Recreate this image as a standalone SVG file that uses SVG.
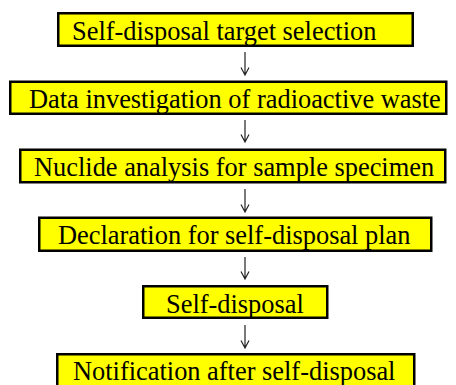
<svg xmlns="http://www.w3.org/2000/svg" width="456" height="385" viewBox="0 0 456 385">
  <style>
    .box { fill: #ffff00; stroke: #000; stroke-width: 2.5; }
    .label { font-family: "Liberation Serif", "Times New Roman", serif; font-size: 26.4px; fill: #000; }
    .arrow { fill: none; stroke: #222; stroke-width: 1.2; }
  </style>
  <rect width="456" height="385" fill="#fff"/>

  <g id="node-target-selection">
    <rect class="box" x="58.25" y="13.25" width="354.5" height="32.5"/>
    <text class="label" x="72" y="39.5">Self-disposal target selection</text>
  </g>
  <g id="node-data-investigation">
    <rect class="box" x="10.25" y="81.75" width="436" height="32"/>
    <text class="label" x="29" y="107.5">Data investigation of radioactive waste</text>
  </g>
  <g id="node-nuclide-analysis">
    <rect class="box" x="20.25" y="149.75" width="425" height="32.5"/>
    <text class="label" x="34" y="175.7">Nuclide analysis for sample specimen</text>
  </g>
  <g id="node-declaration">
    <rect class="box" x="39.25" y="217.75" width="392" height="33"/>
    <text class="label" x="58" y="244">Declaration for self-disposal plan</text>
  </g>
  <g id="node-self-disposal">
    <rect class="box" x="143.25" y="286.25" width="184" height="31.5"/>
    <text class="label" x="166" y="312.7">Self-disposal</text>
  </g>
  <g id="node-notification">
    <rect class="box" x="57.25" y="354.25" width="357" height="40"/>
    <text class="label" x="73" y="380">Notification after self-disposal</text>
  </g>

  <g id="connectors">
    <path class="arrow" d="M245 52 V75 M241 67.5 L245 75 L249 67.5"/>
    <path class="arrow" d="M245 120 V142 M241 134.5 L245 142 L249 134.5"/>
    <path class="arrow" d="M245 189 V212 M241 204.5 L245 212 L249 204.5"/>
    <path class="arrow" d="M245 257 V279 M241 271.5 L245 279 L249 271.5"/>
    <path class="arrow" d="M245 325 V348 M241 340.5 L245 348 L249 340.5"/>
  </g>
</svg>
